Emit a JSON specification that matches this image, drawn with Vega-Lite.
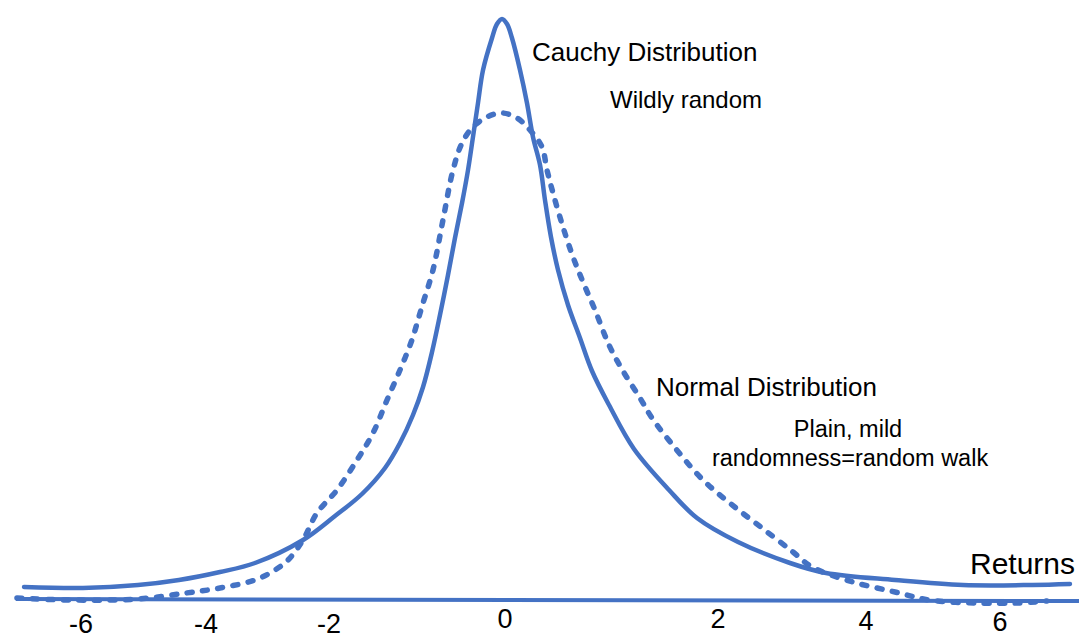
{
  "$schema": "https://vega.github.io/schema/vega-lite/v6.json",
  "width": 1079,
  "height": 640,
  "padding": 0,
  "autosize": {"type": "none"},
  "background": "white",
  "config": {"view": {"stroke": null}},
  "datasets": {
    "baseline": [
      {"r": -6.52, "d": 0.001},
      {"r": 7.653, "d": -0.001}
    ],
    "cauchy": [
      {"r": -6.413, "d": 0.013}, {"r": -5.627, "d": 0.012}, {"r": -4.893, "d": 0.015},
      {"r": -4.347, "d": 0.02}, {"r": -3.8, "d": 0.028}, {"r": -3.333, "d": 0.037},
      {"r": -2.693, "d": 0.06}, {"r": -2.267, "d": 0.084}, {"r": -1.907, "d": 0.106},
      {"r": -1.6, "d": 0.132}, {"r": -1.4, "d": 0.157}, {"r": -1.227, "d": 0.185},
      {"r": -1.093, "d": 0.213}, {"r": -0.973, "d": 0.248}, {"r": -0.867, "d": 0.285},
      {"r": -0.76, "d": 0.325}, {"r": -0.667, "d": 0.362}, {"r": -0.573, "d": 0.397},
      {"r": -0.493, "d": 0.43}, {"r": -0.427, "d": 0.463}, {"r": -0.36, "d": 0.497},
      {"r": -0.293, "d": 0.53}, {"r": -0.173, "d": 0.562}, {"r": -0.107, "d": 0.576},
      {"r": -0.04, "d": 0.581}, {"r": 0.027, "d": 0.576}, {"r": 0.093, "d": 0.562},
      {"r": 0.2, "d": 0.53}, {"r": 0.293, "d": 0.497}, {"r": 0.373, "d": 0.463},
      {"r": 0.467, "d": 0.435}, {"r": 0.533, "d": 0.4}, {"r": 0.613, "d": 0.363},
      {"r": 0.707, "d": 0.33}, {"r": 0.84, "d": 0.295}, {"r": 1.0, "d": 0.262},
      {"r": 1.16, "d": 0.229}, {"r": 1.387, "d": 0.195}, {"r": 1.72, "d": 0.151},
      {"r": 2.187, "d": 0.11}, {"r": 2.56, "d": 0.082}, {"r": 3.107, "d": 0.058},
      {"r": 3.8, "d": 0.037}, {"r": 4.28, "d": 0.027}, {"r": 5.2, "d": 0.02},
      {"r": 6.107, "d": 0.015}, {"r": 7.027, "d": 0.015}, {"r": 7.533, "d": 0.016}
    ],
    "normal": [
      {"r": -6.507, "d": 0.002}, {"r": -5.813, "d": 0.0}, {"r": -4.893, "d": 0.001},
      {"r": -4.253, "d": 0.007}, {"r": -3.8, "d": 0.012}, {"r": -3.333, "d": 0.02},
      {"r": -3.067, "d": 0.03}, {"r": -2.893, "d": 0.04}, {"r": -2.693, "d": 0.06},
      {"r": -2.507, "d": 0.087}, {"r": -2.24, "d": 0.11}, {"r": -1.973, "d": 0.14},
      {"r": -1.76, "d": 0.167}, {"r": -1.573, "d": 0.2}, {"r": -1.4, "d": 0.23},
      {"r": -1.307, "d": 0.247}, {"r": -1.227, "d": 0.263}, {"r": -1.16, "d": 0.28},
      {"r": -1.093, "d": 0.297}, {"r": -0.96, "d": 0.33}, {"r": -0.827, "d": 0.38},
      {"r": -0.693, "d": 0.43}, {"r": -0.573, "d": 0.457}, {"r": -0.427, "d": 0.473},
      {"r": -0.24, "d": 0.483}, {"r": -0.04, "d": 0.487}, {"r": 0.16, "d": 0.482},
      {"r": 0.333, "d": 0.47}, {"r": 0.493, "d": 0.453}, {"r": 0.56, "d": 0.43},
      {"r": 0.64, "d": 0.407}, {"r": 0.773, "d": 0.373}, {"r": 0.907, "d": 0.343},
      {"r": 1.04, "d": 0.318}, {"r": 1.2, "d": 0.29}, {"r": 1.387, "d": 0.255},
      {"r": 1.573, "d": 0.229}, {"r": 1.8, "d": 0.202}, {"r": 1.96, "d": 0.182},
      {"r": 2.28, "d": 0.151}, {"r": 2.64, "d": 0.12}, {"r": 3.013, "d": 0.096},
      {"r": 3.427, "d": 0.072}, {"r": 3.84, "d": 0.048}, {"r": 4.093, "d": 0.033},
      {"r": 4.64, "d": 0.018}, {"r": 5.2, "d": 0.008}, {"r": 5.653, "d": 0.0},
      {"r": 6.293, "d": -0.003}, {"r": 6.84, "d": -0.003}, {"r": 7.227, "d": -0.001}
    ],
    "ticks": [
      {"r": -5.653, "d": -0.025, "t": "-6"},
      {"r": -3.987, "d": -0.025, "t": "-4"},
      {"r": -2.347, "d": -0.025, "t": "-2"},
      {"r": 0.0, "d": -0.02, "t": "0"},
      {"r": 2.84, "d": -0.02, "t": "2"},
      {"r": 4.813, "d": -0.022, "t": "4"},
      {"r": 6.6, "d": -0.023, "t": "6"}
    ],
    "titles": [
      {"r": 0.36, "d": 0.547, "t": "Cauchy Distribution"},
      {"r": 2.013, "d": 0.212, "t": "Normal Distribution"}
    ],
    "subs": [
      {"r": 1.4, "d": 0.499, "t": "Wildly random"}
    ],
    "notes": [
      {"r": 4.573, "d": 0.17, "t": "Plain, mild"},
      {"r": 4.6, "d": 0.141, "t": "randomness=random walk"}
    ],
    "axisTitle": [
      {"r": 6.2, "d": 0.035, "t": "Returns"}
    ]
  },
  "encoding": {
    "x": {"field": "r", "type": "quantitative", "scale": {"domain": [-6.7333, 7.6533], "nice": false, "zero": false}, "axis": null},
    "y": {"field": "d", "type": "quantitative", "scale": {"domain": [-0.04, 0.6], "nice": false, "zero": false}, "axis": null}
  },
  "layer": [
    {
      "data": {"name": "baseline"},
      "mark": {"type": "line", "color": "#4472C4", "strokeWidth": 4},
      "encoding": {}
    },
    {
      "data": {"name": "cauchy"},
      "mark": {"type": "line", "color": "#4472C4", "strokeWidth": 4.5, "interpolate": "catmull-rom", "strokeCap": "round"},
      "encoding": {}
    },
    {
      "data": {"name": "normal"},
      "mark": {"type": "line", "color": "#4472C4", "strokeWidth": 5.5, "interpolate": "catmull-rom", "strokeDash": [5, 10.5], "strokeCap": "round"},
      "encoding": {}
    },
    {
      "data": {"name": "ticks"},
      "mark": {"type": "text", "font": "Liberation Sans", "fontSize": 27, "align": "center", "baseline": "middle", "color": "black"},
      "encoding": {"text": {"field": "t"}}
    },
    {
      "data": {"name": "titles"},
      "mark": {"type": "text", "font": "Liberation Sans", "fontSize": 26, "align": "left", "baseline": "middle", "color": "black"},
      "encoding": {"text": {"field": "t"}}
    },
    {
      "data": {"name": "subs"},
      "mark": {"type": "text", "font": "Liberation Sans", "fontSize": 24, "align": "left", "baseline": "middle", "color": "black"},
      "encoding": {"text": {"field": "t"}}
    },
    {
      "data": {"name": "notes"},
      "mark": {"type": "text", "font": "Liberation Sans", "fontSize": 23.5, "align": "center", "baseline": "middle", "color": "black"},
      "encoding": {"text": {"field": "t"}}
    },
    {
      "data": {"name": "axisTitle"},
      "mark": {"type": "text", "font": "Liberation Sans", "fontSize": 30, "align": "left", "baseline": "middle", "color": "black"},
      "encoding": {"text": {"field": "t"}}
    }
  ]
}
